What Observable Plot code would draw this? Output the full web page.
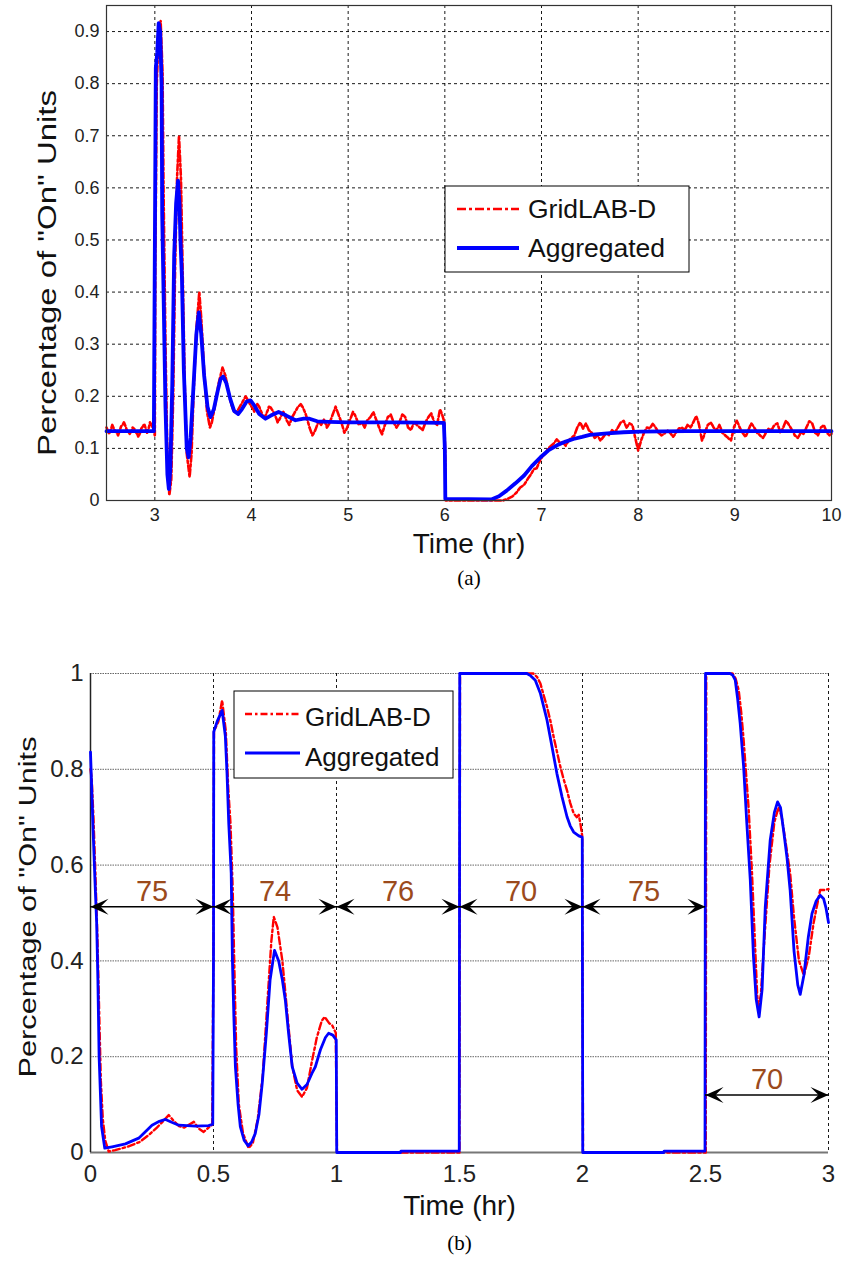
<!DOCTYPE html>
<html><head><meta charset="utf-8">
<script src="https://cdn.jsdelivr.net/npm/d3@7"></script>
<script src="https://cdn.jsdelivr.net/npm/@observablehq/plot@0.6"></script>
<style>
html,body{margin:0;padding:0;background:#fff;}
#a,#b{position:relative;width:843px;}
svg{display:block;}
</style></head><body><div id="a"></div><div id="b"></div>
<script>
// ---------- Chart (a) ----------
const seriesNames = ["GridLAB-D", "Aggregated"];
const xLabel = "Time (hr)";
const yLabel = 'Percentage of "On" Units';
const xTicksA = [3, 4, 5, 6, 7, 8, 9, 10];
const xTickLabelsA = ["3", "4", "5", "6", "7", "8", "9", "10"];
const yTicksA = [0, 0.1, 0.2, 0.3, 0.4, 0.5, 0.6, 0.7, 0.8, 0.9];
const yTickLabelsA = ["0", "0.1", "0.2", "0.3", "0.4", "0.5", "0.6", "0.7", "0.8", "0.9"];

const aggregatedA = [
  [2.5,0.133],[2.99,0.133],[3.0,0.48],[3.01,0.83],[3.025,0.86],[3.04,0.916],[3.055,0.90],[3.07,0.80],
  [3.076,0.55],[3.09,0.40],[3.11,0.18],[3.13,0.05],[3.145,0.022],[3.16,0.06],[3.18,0.22],[3.20,0.47],
  [3.22,0.57],[3.24,0.614],[3.255,0.57],[3.265,0.50],[3.28,0.43],[3.30,0.25],[3.33,0.10],[3.35,0.083],
  [3.37,0.12],[3.40,0.22],[3.43,0.32],[3.455,0.361],[3.48,0.32],[3.51,0.24],[3.545,0.18],[3.576,0.16],
  [3.61,0.175],[3.65,0.21],[3.68,0.233],[3.707,0.238],[3.74,0.225],[3.78,0.195],[3.82,0.172],[3.862,0.166],
  [3.90,0.175],[3.95,0.19],[3.99,0.192],[4.03,0.182],[4.08,0.166],[4.145,0.157],[4.20,0.163],[4.28,0.17],
  [4.36,0.163],[4.455,0.154],[4.54,0.157],[4.60,0.157],[4.68,0.152],[4.8,0.151],[5.0,0.150],[5.5,0.150],
  [5.99,0.149],[6.0,0.10],[6.005,0.003],[6.48,0.002],[6.56,0.008],[6.64,0.019],[6.73,0.033],[6.82,0.048],
  [6.90,0.066],[6.99,0.083],[7.07,0.096],[7.16,0.106],[7.25,0.113],[7.33,0.118],[7.42,0.122],[7.5,0.126],
  [7.68,0.129],[7.85,0.131],[8.02,0.132],[8.5,0.133],[10,0.133]
];

const gridlabA = [
  [2.50,0.140],[2.52,0.131],[2.53,0.128],[2.55,0.139],[2.56,0.145],[2.58,0.136],[2.59,0.133],[2.61,0.129],
  [2.62,0.125],[2.64,0.136],[2.65,0.142],[2.67,0.146],[2.68,0.150],[2.70,0.141],[2.71,0.135],[2.73,0.131],
  [2.74,0.128],[2.76,0.134],[2.77,0.140],[2.79,0.137],[2.80,0.132],[2.82,0.127],[2.83,0.122],[2.85,0.131],
  [2.86,0.138],[2.88,0.143],[2.89,0.147],[2.91,0.136],[2.92,0.130],[2.94,0.141],[2.95,0.150],[2.97,0.144],
  [2.98,0.138],[3.00,0.125],[3.005,0.45],[3.02,0.80],[3.04,0.90],[3.06,0.92],[3.08,0.82],[3.09,0.60],
  [3.11,0.30],[3.13,0.08],[3.15,0.01],[3.17,0.04],[3.19,0.20],[3.21,0.45],[3.23,0.62],[3.25,0.70],
  [3.27,0.62],[3.29,0.42],[3.31,0.22],[3.33,0.09],[3.36,0.045],[3.38,0.09],[3.40,0.20],[3.43,0.33],
  [3.46,0.40],[3.48,0.35],[3.51,0.25],[3.54,0.17],[3.57,0.14],[3.59,0.15],[3.62,0.18],[3.66,0.225],
  [3.70,0.255],[3.73,0.24],[3.76,0.21],[3.79,0.185],[3.82,0.17],[3.85,0.17],[3.88,0.18],[3.91,0.19],
  [3.94,0.20],[3.97,0.19],[4.00,0.18],[4.02,0.175],[4.03,0.17],[4.05,0.178],[4.06,0.185],[4.08,0.18],[4.09,0.175],
  [4.11,0.166],[4.12,0.16],[4.14,0.162],[4.15,0.165],[4.17,0.174],[4.18,0.18],[4.20,0.178],[4.21,0.175],
  [4.23,0.169],[4.24,0.165],[4.26,0.156],[4.27,0.15],[4.29,0.156],[4.30,0.16],[4.32,0.166],[4.33,0.17],
  [4.35,0.161],[4.36,0.155],[4.38,0.149],[4.39,0.145],[4.41,0.154],[4.42,0.16],[4.44,0.166],[4.45,0.17],
  [4.47,0.176],[4.48,0.18],[4.50,0.183],[4.51,0.185],[4.53,0.179],[4.54,0.175],[4.56,0.166],[4.57,0.16],
  [4.59,0.147],[4.60,0.14],[4.62,0.13],[4.63,0.125],[4.65,0.131],[4.66,0.135],[4.68,0.145],[4.69,0.15],
  [4.71,0.147],[4.72,0.145],[4.74,0.152],[4.75,0.155],[4.77,0.146],[4.78,0.14],[4.80,0.146],[4.81,0.15],
  [4.83,0.16],[4.84,0.165],[4.86,0.175],[4.87,0.18],[4.89,0.17],[4.90,0.165],[4.92,0.155],[4.93,0.15],
  [4.95,0.137],[4.96,0.13],[4.98,0.136],[4.99,0.14],[5.01,0.15],[5.02,0.155],[5.04,0.165],[5.05,0.17],
  [5.07,0.164],[5.08,0.16],[5.10,0.15],[5.11,0.145],[5.13,0.148],[5.14,0.15],[5.16,0.144],[5.17,0.14],
  [5.19,0.15],[5.20,0.155],[5.22,0.158],[5.23,0.16],[5.25,0.166],[5.26,0.17],[5.28,0.16],[5.29,0.155],
  [5.31,0.145],[5.32,0.14],[5.34,0.131],[5.35,0.127],[5.37,0.139],[5.38,0.145],[5.40,0.155],[5.41,0.16],
  [5.43,0.163],[5.44,0.165],[5.46,0.155],[5.47,0.15],[5.49,0.143],[5.50,0.14],[5.52,0.146],[5.53,0.15],
  [5.55,0.16],[5.56,0.165],[5.58,0.162],[5.59,0.16],[5.61,0.147],[5.62,0.14],[5.64,0.137],[5.65,0.135],
  [5.67,0.145],[5.68,0.15],[5.70,0.147],[5.71,0.145],[5.73,0.142],[5.74,0.14],[5.76,0.137],[5.77,0.135],
  [5.79,0.145],[5.80,0.15],[5.82,0.157],[5.83,0.16],[5.85,0.165],[5.86,0.167],[5.88,0.156],[5.89,0.15],
  [5.91,0.147],[5.92,0.145],[5.94,0.165],[5.95,0.175],[5.97,0.166],[5.98,0.16],[5.995,0.15],[6.005,0.08],[6.01,0.0],
  [6.30,0.0],[6.60,0.0],[6.65,0.003],[6.70,0.008],[6.74,0.015],[6.78,0.025],[6.82,0.03],[6.86,0.042],
  [6.89,0.05],[6.92,0.06],[6.95,0.062],[6.98,0.075],[7.01,0.085],[7.04,0.09],[7.07,0.10],[7.10,0.105],
  [7.13,0.11],[7.16,0.118],[7.19,0.11],[7.22,0.112],[7.25,0.105],[7.28,0.115],[7.31,0.12],[7.34,0.125],
  [7.37,0.14],[7.40,0.15],[7.43,0.138],[7.46,0.148],[7.49,0.135],[7.52,0.13],[7.55,0.12],[7.58,0.125],
  [7.61,0.115],[7.64,0.122],[7.67,0.13],[7.70,0.125],[7.73,0.135],[7.76,0.13],[7.79,0.14],[7.82,0.15],
  [7.85,0.153],[7.88,0.14],[7.91,0.148],[7.94,0.145],[7.97,0.12],[8.00,0.096],[8.02,0.108],[8.03,0.115],
  [8.05,0.125],[8.06,0.13],[8.08,0.137],[8.09,0.14],[8.11,0.139],[8.12,0.138],[8.14,0.144],[8.15,0.147],
  [8.17,0.143],[8.18,0.14],[8.20,0.134],[8.21,0.13],[8.23,0.127],[8.24,0.125],[8.26,0.127],[8.27,0.128],
  [8.29,0.133],[8.30,0.135],[8.32,0.132],[8.33,0.13],[8.35,0.125],[8.36,0.122],[8.38,0.127],[8.39,0.13],
  [8.41,0.135],[8.42,0.138],[8.44,0.139],[8.45,0.14],[8.47,0.137],[8.48,0.135],[8.50,0.141],[8.51,0.145],
  [8.53,0.142],[8.54,0.14],[8.56,0.146],[8.57,0.15],[8.59,0.158],[8.60,0.162],[8.62,0.152],[8.63,0.145],
  [8.65,0.125],[8.66,0.115],[8.68,0.124],[8.69,0.13],[8.71,0.14],[8.72,0.145],[8.74,0.148],[8.75,0.15],
  [8.77,0.144],[8.78,0.14],[8.80,0.137],[8.81,0.135],[8.83,0.141],[8.84,0.145],[8.86,0.136],[8.87,0.13],
  [8.89,0.127],[8.90,0.125],[8.92,0.122],[8.93,0.12],[8.95,0.117],[8.96,0.115],[8.98,0.131],[8.99,0.14],
  [9.01,0.149],[9.02,0.153],[9.04,0.145],[9.05,0.14],[9.07,0.134],[9.08,0.13],[9.10,0.125],[9.11,0.122],
  [9.13,0.13],[9.14,0.135],[9.16,0.144],[9.17,0.148],[9.19,0.143],[9.20,0.14],[9.22,0.134],[9.23,0.13],
  [9.25,0.127],[9.26,0.125],[9.28,0.122],[9.29,0.12],[9.31,0.126],[9.32,0.13],[9.34,0.135],[9.35,0.138],
  [9.37,0.136],[9.38,0.135],[9.40,0.142],[9.41,0.145],[9.43,0.147],[9.44,0.148],[9.46,0.137],[9.47,0.13],
  [9.49,0.136],[9.50,0.14],[9.52,0.149],[9.53,0.153],[9.55,0.148],[9.56,0.145],[9.58,0.139],[9.59,0.135],
  [9.61,0.129],[9.62,0.125],[9.64,0.122],[9.65,0.12],[9.67,0.126],[9.68,0.13],[9.70,0.129],[9.71,0.128],
  [9.73,0.135],[9.74,0.14],[9.76,0.148],[9.77,0.152],[9.79,0.15],[9.80,0.148],[9.82,0.137],[9.83,0.13],
  [9.85,0.127],[9.86,0.125],[9.88,0.134],[9.89,0.14],[9.91,0.143],[9.92,0.145],[9.94,0.136],[9.95,0.13],
  [9.97,0.127],[9.98,0.125],[10.0,0.128]
];

// ---------- Chart (b) ----------
const xTicksB = [0, 0.5, 1, 1.5, 2, 2.5, 3];
const xTickLabelsB = ["0", "0.5", "1", "1.5", "2", "2.5", "3"];
const yTicksB = [0, 0.2, 0.4, 0.6, 0.8, 1];
const yTickLabelsB = ["0", "0.2", "0.4", "0.6", "0.8", "1"];

const aggregatedB = [
  [0.000,0.836],[0.011,0.666],[0.018,0.569],[0.025,0.48],[0.030,0.36],[0.035,0.20],[0.045,0.054],[0.058,0.009],
  [0.088,0.012],[0.142,0.018],[0.196,0.030],[0.25,0.057],[0.28,0.065],[0.305,0.069],[0.33,0.063],[0.359,0.057],
  [0.427,0.055],[0.48,0.056],[0.497,0.059],[0.500,0.40],[0.501,0.878],[0.515,0.90],[0.535,0.923],[0.548,0.87],
  [0.555,0.791],[0.562,0.687],[0.572,0.583],[0.577,0.40],[0.583,0.28],[0.589,0.179],[0.600,0.10],[0.609,0.054],
  [0.625,0.025],[0.641,0.014],[0.655,0.022],[0.670,0.04],[0.685,0.08],[0.698,0.144],[0.715,0.25],[0.730,0.36],
  [0.748,0.422],[0.765,0.40],[0.780,0.36],[0.792,0.318],[0.805,0.25],[0.820,0.179],[0.840,0.145],[0.860,0.132],
  [0.880,0.142],[0.900,0.165],[0.914,0.179],[0.935,0.215],[0.955,0.240],[0.968,0.249],[0.985,0.245],[0.999,0.235],
  [1.001,0.0],[1.26,0.0],[1.262,0.003],[1.499,0.003],[1.501,1.0],[1.774,1.0],[1.790,0.995],[1.808,0.986],
  [1.829,0.958],[1.856,0.902],[1.876,0.847],[1.896,0.791],[1.917,0.742],[1.937,0.701],[1.950,0.682],[1.964,0.669],
  [1.985,0.661],[1.999,0.658],[2.001,0.0],[2.33,0.0],[2.332,0.003],[2.498,0.003],[2.500,1.0],[2.600,1.0],
  [2.610,0.997],[2.621,0.986],[2.630,0.95],[2.641,0.896],[2.655,0.805],[2.668,0.687],[2.682,0.569],[2.695,0.409],
  [2.706,0.32],[2.718,0.283],[2.730,0.34],[2.743,0.513],[2.763,0.652],[2.780,0.71],[2.793,0.732],[2.805,0.72],
  [2.818,0.67],[2.831,0.617],[2.844,0.548],[2.860,0.42],[2.875,0.35],[2.885,0.33],[2.900,0.37],[2.918,0.45],
  [2.933,0.499],[2.950,0.525],[2.966,0.537],[2.980,0.53],[2.990,0.51],[3.000,0.48]
];

const gridlabB = [
  [0.000,0.80],[0.005,0.78],[0.012,0.70],[0.020,0.58],[0.028,0.45],[0.035,0.30],[0.042,0.15],[0.050,0.07],
  [0.060,0.025],[0.074,0.002],[0.10,0.005],[0.15,0.012],[0.20,0.022],[0.24,0.038],[0.27,0.052],[0.30,0.068],
  [0.318,0.078],[0.34,0.065],[0.36,0.055],[0.38,0.052],[0.40,0.058],[0.42,0.064],[0.44,0.05],[0.46,0.043],
  [0.48,0.052],[0.495,0.058],[0.500,0.45],[0.502,0.88],[0.52,0.90],[0.535,0.944],[0.550,0.88],[0.560,0.76],
  [0.569,0.687],[0.578,0.55],[0.585,0.38],[0.592,0.22],[0.603,0.10],[0.620,0.04],[0.643,0.009],[0.660,0.02],
  [0.680,0.07],[0.700,0.16],[0.720,0.32],[0.735,0.44],[0.745,0.492],[0.760,0.47],[0.780,0.40],[0.800,0.29],
  [0.820,0.18],[0.840,0.13],[0.860,0.116],[0.880,0.135],[0.900,0.19],[0.920,0.24],[0.940,0.275],[0.952,0.283],
  [0.970,0.27],[0.982,0.266],[0.997,0.25],[1.002,0.0],[1.50,0.0],[1.502,1.0],[1.800,1.0],[1.815,0.993],
  [1.829,0.979],[1.842,0.955],[1.856,0.93],[1.870,0.90],[1.883,0.867],[1.897,0.835],[1.910,0.805],[1.923,0.78],
  [1.937,0.756],[1.950,0.73],[1.964,0.708],[1.977,0.70],[1.985,0.705],[1.992,0.685],[1.999,0.66],[2.002,0.0],
  [2.501,0.0],[2.503,1.0],[2.610,1.0],[2.622,0.99],[2.635,0.965],[2.645,0.92],[2.655,0.861],[2.665,0.79],
  [2.675,0.721],[2.689,0.583],[2.700,0.45],[2.710,0.33],[2.715,0.30],[2.725,0.33],[2.740,0.45],[2.760,0.60],
  [2.780,0.69],[2.797,0.721],[2.810,0.70],[2.825,0.65],[2.844,0.583],[2.860,0.49],[2.880,0.40],[2.900,0.37],
  [2.920,0.41],[2.939,0.478],[2.955,0.52],[2.966,0.548],[2.985,0.548],[3.000,0.55]
];

// setpoint annotations in (b)
const arrowStart = [0, 0.5, 1, 1.5, 2, 2.5];
const arrowEnd = [0.5, 1, 1.5, 2, 2.5, 3];
const arrowLevel = [0.513, 0.513, 0.513, 0.513, 0.513, 0.12];
const arrowLabels = ["75", "74", "76", "70", "75", "70"];

// ---------- rendering ----------
const RED = "#ff0000", BLUE = "#0000ff", BROWN = "#9b4a1c";
const SANS = "'Liberation Sans', Arial, Helvetica, sans-serif";
const SERIF = "'Liberation Serif', 'Times New Roman', serif";
const P = d => ({t: d[0], v: d[1]});

const headRight = {draw(ctx) { ctx.moveTo(0, 0); ctx.lineTo(-18, -8); ctx.lineTo(-10, 0); ctx.lineTo(-18, 8); ctx.closePath(); }};
const headLeft = {draw(ctx) { ctx.moveTo(0, 0); ctx.lineTo(18, -8); ctx.lineTo(10, 0); ctx.lineTo(18, 8); ctx.closePath(); }};

function fitText(svg, content, len) {
  d3.select(svg).selectAll("text").filter(function() { return this.textContent === content; })
    .attr("textLength", len).attr("lengthAdjust", "spacingAndGlyphs");
}

function addLegend(svg, L) {
  const g = d3.select(svg).append("g").attr("text-anchor", "start");
  g.append("rect").attr("x", L.x).attr("y", L.y).attr("width", L.w).attr("height", L.h)
    .attr("fill", "#fff").attr("stroke", "#000").attr("stroke-width", 1);
  g.append("line").attr("x1", L.lx1).attr("x2", L.lx2).attr("y1", L.y1).attr("y2", L.y1)
    .attr("stroke", RED).attr("stroke-width", L.rw).attr("stroke-dasharray", L.dash);
  g.append("line").attr("x1", L.lx1).attr("x2", L.lx2).attr("y1", L.y2).attr("y2", L.y2)
    .attr("stroke", BLUE).attr("stroke-width", L.bw);
  g.append("text").attr("x", L.tx).attr("y", L.b1).attr("font-family", SANS).attr("font-size", L.fs).attr("fill", "#111").text(seriesNames[0]);
  g.append("text").attr("x", L.tx).attr("y", L.b2).attr("font-family", SANS).attr("font-size", L.fs).attr("fill", "#111").text(seriesNames[1]);
}

// Chart (a)
const svgA = Plot.plot({
  width: 843, height: 600,
  marginLeft: 106, marginRight: 12, marginTop: 5, marginBottom: 100,
  x: {domain: [2.5, 10]},
  y: {domain: [0, 0.95]},
  style: {fontFamily: SANS, background: "#fff", color: "#222", overflow: "visible"},
  marks: [
    Plot.gridX(xTicksA, {stroke: "#000", strokeOpacity: 0.9, strokeDasharray: "3,3"}),
    Plot.gridY(yTicksA, {stroke: "#000", strokeOpacity: 0.9, strokeDasharray: "3,3"}),
    Plot.line(gridlabA.map(P), {x: "t", y: "v", stroke: RED, strokeWidth: 2.6, strokeDasharray: "6,2.5,2.5,2.5", strokeLinejoin: "round"}),
    Plot.line(aggregatedA.map(P), {x: "t", y: "v", stroke: BLUE, strokeWidth: 3.8, strokeLinejoin: "round"}),
    Plot.frame({stroke: "#333", strokeWidth: 1.2}),
    Plot.axisX(xTicksA, {tickSize: 0, tickPadding: 8, fontSize: 18, label: null, tickFormat: (d, i) => xTickLabelsA[i]}),
    Plot.axisY(yTicksA, {tickSize: 0, tickPadding: 7, fontSize: 18, label: null, tickFormat: (d, i) => yTickLabelsA[i]}),
    Plot.text([xLabel], {text: d => d, frameAnchor: "bottom", dy: 52, fontSize: 28, fill: "#111"}),
    Plot.text([yLabel], {text: d => d, frameAnchor: "left", textAnchor: "middle", dx: -59, dy: 20, rotate: -90, fontSize: 25, fill: "#111"}),
    Plot.text(["(a)"], {text: d => d, frameAnchor: "bottom", dy: 84, fontSize: 21, fontFamily: SERIF, fill: "#000"})
  ]
});
document.getElementById("a").appendChild(svgA);
fitText(svgA, yLabel, 366);
addLegend(svgA, {x: 445, y: 186, w: 244, h: 86, lx1: 457, lx2: 519, y1: 209, y2: 248,
  rw: 2.6, bw: 3.8, dash: "9,3,3,3", tx: 528, b1: 218, b2: 257, fs: 26.5});

// Chart (b)
const arrows = arrowStart.map((s, i) => ({x1: s, x2: arrowEnd[i], y: arrowLevel[i], label: arrowLabels[i]}));
const svgB = Plot.plot({
  width: 843, height: 662,
  marginLeft: 90, marginRight: 15, marginTop: 73, marginBottom: 110,
  x: {domain: [0, 3]},
  y: {domain: [0, 1]},
  style: {fontFamily: SANS, background: "#fff", color: "#222", overflow: "visible"},
  marks: [
    Plot.gridY(yTicksB.slice(1), {stroke: "#555", strokeOpacity: 0.9, strokeDasharray: "1.5,1"}),
    Plot.gridX(xTicksB.slice(1), {stroke: "#000", strokeOpacity: 0.9, strokeDasharray: "3,3"}),
    Plot.ruleY([0], {stroke: "#777", strokeWidth: 2}),
    Plot.ruleX([0], {stroke: "#222", strokeWidth: 1.5}),
    Plot.line(gridlabB.map(P), {x: "t", y: "v", stroke: RED, strokeWidth: 2.4, strokeDasharray: "7,3,2.5,3", strokeLinejoin: "round"}),
    Plot.line(aggregatedB.map(P), {x: "t", y: "v", stroke: BLUE, strokeWidth: 2.8, strokeLinejoin: "round"}),
    Plot.ruleY(arrows, {y: "y", x1: "x1", x2: "x2", stroke: "#000", strokeWidth: 1.6}),
    Plot.dot(arrows, {x: "x2", y: "y", symbol: headRight, fill: "#000", stroke: "none"}),
    Plot.dot(arrows, {x: "x1", y: "y", symbol: headLeft, fill: "#000", stroke: "none"}),
    Plot.text(arrows, {x: d => (d.x1 + d.x2) / 2, y: "y", text: "label", dy: -15, fontSize: 29, fill: BROWN}),
    Plot.axisX(xTicksB, {tickSize: 0, tickPadding: 12, fontSize: 24, label: null, tickFormat: (d, i) => xTickLabelsB[i]}),
    Plot.axisY(yTicksB, {tickSize: 0, tickPadding: 7, fontSize: 24, label: null, tickFormat: (d, i) => yTickLabelsB[i]}),
    Plot.text([xLabel], {text: d => d, frameAnchor: "bottom", dy: 62, fontSize: 28, fill: "#111"}),
    Plot.text([yLabel], {text: d => d, frameAnchor: "left", textAnchor: "middle", dx: -62, dy: -6, rotate: -90, fontSize: 23, fill: "#111"}),
    Plot.text(["(b)"], {text: d => d, frameAnchor: "bottom", dy: 97, fontSize: 21, fontFamily: SERIF, fill: "#000"})
  ]
});
document.getElementById("b").appendChild(svgB);
fitText(svgB, yLabel, 341);
addLegend(svgB, {x: 234, y: 91, w: 219, h: 87, lx1: 245, lx2: 300, y1: 114, y2: 153,
  rw: 2.4, bw: 2.8, dash: "7,3,2.5,3", tx: 305, b1: 126, b2: 166, fs: 26});
</script></body></html>
